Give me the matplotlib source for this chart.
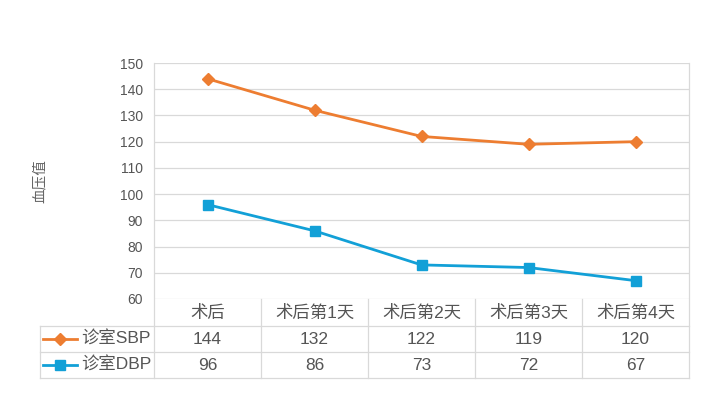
import matplotlib.pyplot as plt
import matplotlib.transforms as mtransforms
from matplotlib.lines import Line2D

plt.rcParams['font.family'] = ['Liberation Sans', 'Noto Sans CJK SC', 'DejaVu Sans']

# 数据
categories = ["术后", "术后第1天", "术后第2天", "术后第3天", "术后第4天"]
series_names = ["诊室SBP", "诊室DBP"]
sbp = [144, 132, 122, 119, 120]
dbp = [96, 86, 73, 72, 67]

orange = "#ED7D31"
blue = "#12A0D7"
grid_c = "#D9D9D9"
text_c = "#555555"

fig = plt.figure(figsize=(7.17, 3.96), dpi=100)
ax = fig.add_axes([154 / 717, 1 - 299 / 396, 535 / 717, 236 / 396])

x = list(range(len(categories)))
ax.plot(x, sbp, color=orange, lw=2.0, marker="D", ms=6.5, zorder=3)
ax.plot(x, dbp, color=blue, lw=2.0, marker="s", ms=7, zorder=3)

ax.set_xlim(-0.5, len(categories) - 0.5)
ax.set_ylim(60, 150)
ax.set_yticks(range(60, 151, 10))
ax.set_xticks([])
ax.grid(axis="y", color=grid_c, lw=0.9)
ax.set_axisbelow(True)
ax.tick_params(axis="y", length=0, pad=8, labelsize=10, labelcolor=text_c)
for s in ["top", "bottom", "left", "right"]:
    ax.spines[s].set_visible(False)

# 数据表
trans = mtransforms.blended_transform_factory(ax.transData, ax.transAxes)
def ay(py):
    return (299 - py) / 236

line_kw = dict(color=grid_c, lw=0.9, clip_on=False, transform=ax.transAxes)
left_x = (40 - 154) / 535
for py in [326, 352, 378]:
    ax.add_line(Line2D([left_x, 1], [ay(py), ay(py)], **line_kw))
ax.add_line(Line2D([0, 0], [1, ay(378)], **line_kw))
ax.add_line(Line2D([1, 1], [1, ay(378)], **line_kw))
ax.add_line(Line2D([left_x, left_x], [ay(326), ay(378)], **line_kw))
vline_kw = dict(color=grid_c, lw=0.9, clip_on=False, transform=trans)
for i in range(1, len(categories)):
    ax.add_line(Line2D([i - 0.5, i - 0.5], [0, ay(378)], **vline_kw))

for i, c in enumerate(categories):
    ax.text(i, ay(312.5), c, transform=trans, ha="center", va="center",
            fontsize=12.5, color=text_c)

rows = [(sbp, orange, "D", 6.5, 339), (dbp, blue, "s", 7, 365)]
for name, (vals, col, mk, ms, py) in zip(series_names, rows):
    for i, v in enumerate(vals):
        ax.text(i, ay(py), str(v), transform=trans, ha="center", va="center",
                fontsize=12.5, color=text_c)
    ax.add_line(Line2D([(43 - 154) / 535, (77 - 154) / 535], [ay(py), ay(py)],
                       color=col, lw=2.0, clip_on=False, transform=ax.transAxes))
    ax.add_line(Line2D([(60 - 154) / 535], [ay(py)], color=col, marker=mk, ms=ms,
                       lw=0, clip_on=False, transform=ax.transAxes))
    ax.text((81 - 154) / 535, ay(py), name, transform=ax.transAxes,
            ha="left", va="center", fontsize=12.5, color=text_c)

fig.text(40 / 717, 1 - 181 / 396, "血压值", rotation=90, ha="center", va="center",
         fontsize=10.5, color="#666666")

fig.savefig("out.png", dpi=100)
